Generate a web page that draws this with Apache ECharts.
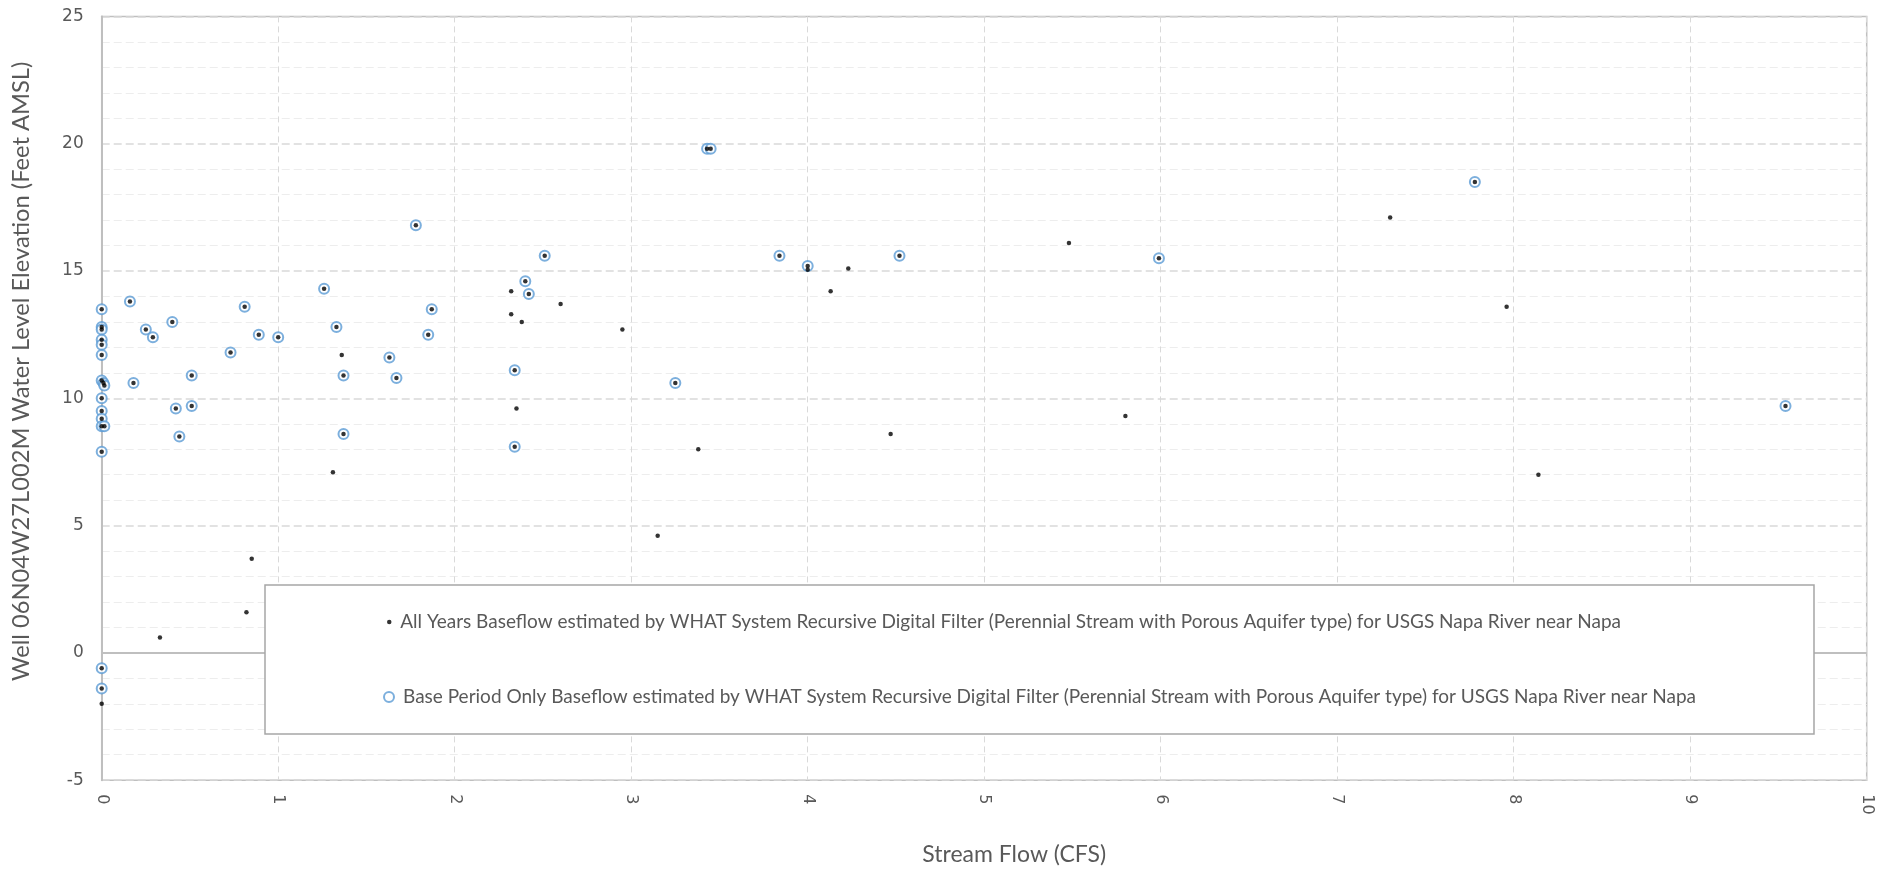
<!DOCTYPE html>
<html>
<head>
<meta charset="utf-8">
<title>Stream Flow vs Water Level</title>
<script src="https://cdn.jsdelivr.net/npm/echarts@6/dist/echarts.min.js"></script>
<style>
  html, body { margin: 0; padding: 0; background: #fff; }
  #chart { width: 1895px; height: 872px; }
</style>
</head>
<body>
<div id="chart"></div>
<script>
// base period points (blue circles) - also plotted in the all years series
const baseFlow = [0, 0, 0, 0, 0, 0, 0, 0.01, 0.015, 0, 0, 0, 0, 0.015, 0, 0, 0,
  0.16, 0.25, 0.29, 0.40, 0.18, 0.51, 0.42, 0.51, 0.44, 0.73, 0.81, 0.89, 1.00,
  1.26, 1.33, 1.37, 1.37, 1.63, 1.67, 1.78, 1.87, 1.85, 2.51, 2.40, 2.42, 2.34,
  2.34, 3.25, 3.43, 3.45, 3.84, 4.00, 4.52, 5.99, 7.78, 9.54]
const baseLevel = [13.5, 12.8, 12.7, 12.3, 12.1, 11.7, 10.7, 10.6, 10.5, 10.0, 9.5, 9.2, 8.9, 8.9, 7.9, -0.6, -1.4,
  13.8, 12.7, 12.4, 13.0, 10.6, 10.9, 9.6, 9.7, 8.5, 11.8, 13.6, 12.5, 12.4,
  14.3, 12.8, 10.9, 8.6, 11.6, 10.8, 16.8, 13.5, 12.5, 15.6, 14.6, 14.1, 11.1,
  8.1, 10.6, 19.8, 19.8, 15.6, 15.2, 15.6, 15.5, 18.5, 9.7]

// points only in the all years series (black dots without circle)
const otherFlow = [0, 0.33, 0.82, 0.85, 1.31, 1.36, 2.32, 2.32, 2.38, 2.35, 2.60, 2.95,
  3.15, 3.38, 4.00, 4.13, 4.23, 4.47, 5.48, 5.80, 7.30, 7.96, 8.14]
const otherLevel = [-2.0, 0.6, 1.6, 3.7, 7.1, 11.7, 14.2, 13.3, 13.0, 9.6, 13.7, 12.7,
  4.6, 8.0, 15.05, 14.2, 15.1, 8.6, 16.1, 9.3, 17.1, 13.6, 7.0]

const xTicks = [0, 10, 1]
const yTicks = [-5, 25, 5]

const allName = 'All Years Baseflow estimated by WHAT System Recursive Digital Filter (Perennial Stream with Porous Aquifer type) for USGS Napa River near Napa'
const baseName = 'Base Period Only Baseflow estimated by WHAT System Recursive Digital Filter (Perennial Stream with Porous Aquifer type) for USGS Napa River near Napa'

function pairs(xs, ys) {
  return xs.map((x, i) => [x, ys[i]])
}

const allData = pairs(baseFlow, baseLevel).concat(pairs(otherFlow, otherLevel))
const baseData = pairs(baseFlow, baseLevel)

const myChart = echarts.init(document.getElementById('chart'))
const gray = '#595959'
const legendText = { color: gray, fontFamily: 'Lato', fontSize: 19, lineHeight: 20 }

myChart.setOption({
  animation: false,
  backgroundColor: '#fff',
  grid: {
    left: 101.7,
    right: 28.3,
    top: 16.4,
    bottom: 91.8,
    show: true,
    borderColor: '#bfbfbf',
    borderWidth: 1.5
  },
  legend: [
    {
      data: [{ name: allName, icon: 'circle' }],
      left: 265,
      top: 585,
      z: 20,
      orient: 'vertical',
      itemWidth: 12,
      itemHeight: 4.5,
      padding: [27, 193, 102, 122],
      backgroundColor: '#fff',
      borderColor: '#a6a6a6',
      borderWidth: 1.5,
      textStyle: legendText
    },
    {
      data: [{ name: baseName, icon: 'emptyCircle' }],
      left: 383,
      top: 687,
      z: 21,
      orient: 'vertical',
      itemWidth: 18,
      itemHeight: 10,
      padding: 0,
      textStyle: legendText
    }
  ],
  xAxis: {
    type: 'value',
    min: xTicks[0],
    max: xTicks[1],
    interval: xTicks[2],
    name: 'Stream Flow (CFS)',
    nameLocation: 'middle',
    nameGap: 63,
    nameTextStyle: { color: gray, fontFamily: 'Lato', fontSize: 23, padding: [0, 0, 0, 60] },
    axisLine: { show: false },
    axisTick: { show: false },
    axisLabel: { rotate: -90, margin: 14, color: gray, fontFamily: 'DejaVu Sans', fontSize: 16 },
    splitLine: { show: true, lineStyle: { color: '#d9d9d9', width: 1, type: [6, 4] } }
  },
  yAxis: {
    type: 'value',
    min: yTicks[0],
    max: yTicks[1],
    interval: yTicks[2],
    name: 'Well 06N04W27L002M Water Level Elevation (Feet AMSL)',
    nameLocation: 'middle',
    nameGap: 68,
    nameTextStyle: { color: gray, fontFamily: 'Lato', fontSize: 23.7, padding: [0, 0, 0, 54] },
    axisLine: { show: true, lineStyle: { color: '#bfbfbf', width: 2 } },
    axisTick: { show: false },
    axisLabel: { margin: 18, color: gray, fontFamily: 'DejaVu Sans', fontSize: 17 },
    splitLine: { show: true, lineStyle: { color: '#d9d9d9', width: 1.5, type: [8, 4] } },
    minorTick: { show: false, splitNumber: 5 },
    minorSplitLine: { show: true, lineStyle: { color: '#ededed', width: 1, type: [8, 4] } }
  },
  series: [
    {
      name: baseName,
      type: 'scatter',
      symbol: 'emptyCircle',
      symbolSize: 10,
      z: 2,
      itemStyle: { color: '#5b9bd5', borderColor: '#5b9bd5', borderWidth: 2 },
      data: baseData,
      markLine: {
        silent: true,
        z: 1,
        symbol: 'none',
        label: { show: false },
        lineStyle: { color: '#bfbfbf', width: 2, type: 'solid' },
        data: [{ yAxis: 0 }]
      }
    },
    {
      name: allName,
      type: 'scatter',
      symbol: 'circle',
      symbolSize: 4.5,
      z: 3,
      itemStyle: { color: '#000' },
      data: allData
    }
  ]
})
window.onresize = function() {
  myChart.resize()
}
</script>
</body>
</html>
